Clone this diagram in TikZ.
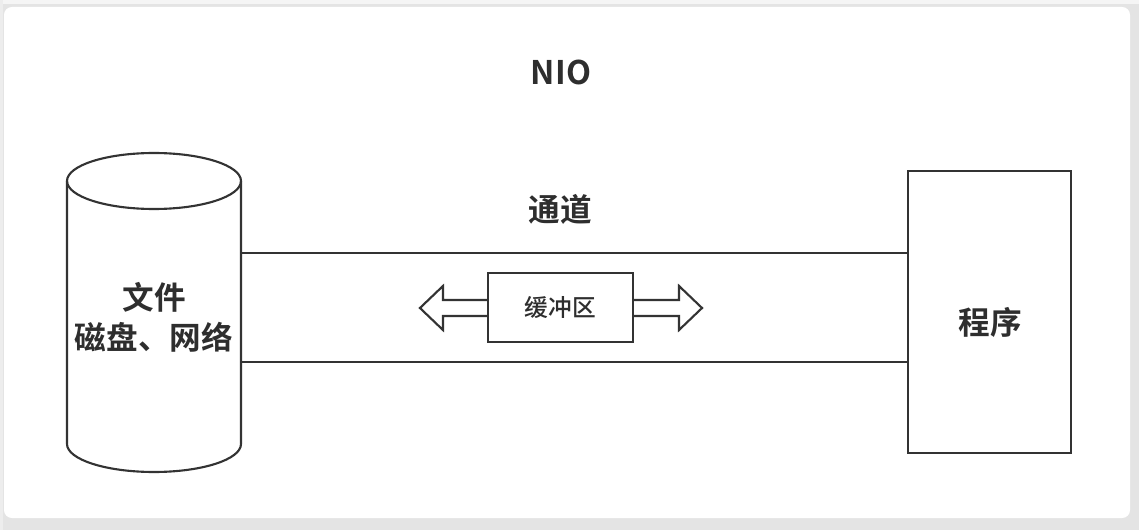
\documentclass[tikz,border=0pt]{standalone}
\usepackage{fontspec}
\setmainfont{Noto Sans CJK SC}[BoldFont={Noto Sans CJK SC Bold}]
\newfontfamily\mediumfont{Noto Sans CJK SC Medium}
\usetikzlibrary{calc}
\definecolor{linegray}{HTML}{333333}
\definecolor{textgray}{HTML}{2E2E2E}
\definecolor{bggray}{HTML}{E4E4E4}

\begin{document}
\begin{tikzpicture}[x=0.02cm, y=-0.02cm]
    % Styles
    \tikzstyle{line} = [draw=linegray, line width=1.2pt]
    \tikzstyle{box} = [rectangle, draw=linegray, line width=1.2pt, fill=white, inner sep=0pt]
    \tikzstyle{big} = [font=\bfseries\fontsize{18}{22.7}\selectfont, text=textgray, align=center, inner sep=0pt]
    \tikzstyle{small} = [font=\mediumfont\fontsize{13.5}{16}\selectfont, text=textgray]
    \tikzstyle{hollow} = [draw=linegray, line width=1.2pt, fill=white, line join=miter]

    % Card
    \useasboundingbox (0,0) rectangle (1139,530);
    \fill[bggray] (0,0) rectangle (1139,530);
    \fill[black!4] (0,0) rectangle (1139,4);
    \fill[black!7] (0,0) rectangle (3,530);
    \fill[white, rounded corners=4.5pt] (4,7) rectangle (1130,518);

    % Nodes
    \node[big, font=\bfseries\fontsize{18.5}{22}\selectfont] (title) at (561,72) {NIO};
    \node[inner sep=0pt, minimum width=13.34cm, minimum height=2.18cm] (channel) at (574.5,307.5) {};
    \node[big, anchor=south] (chlabel) at ($(channel.north)+(-14,-28)$) {通道};
    \node[box, minimum width=3.26cm, minimum height=5.64cm] (prog) at (989.5,312) {};
    \node[big] (proglabel) at ($(prog.center)+(1,10)$) {程序};
    \node[box, minimum width=2.9cm, minimum height=1.38cm, small] (buffer) at (560.5,307.5) {缓冲区};

    % Cylinder
    \coordinate (cyltop) at (154,181);
    \draw[line, fill=white] ($(cyltop)+(-87,0)$) -- ++(0,263)
        arc[start angle=180, end angle=0, x radius=87, y radius=28] -- ($(cyltop)+(87,0)$);
    \draw[line] (cyltop) ellipse [x radius=87, y radius=28];
    \node[big] (file) at (154,317) {文件\\磁盘、网络};

    % Channel
    \draw[line] (channel.north west) -- (channel.north east);
    \draw[line] (channel.south west) -- (channel.south east);

    % Arrows
    \draw[hollow] ($(buffer.west)+(0,-7.5)$) -- ++(-44,0) -- ++(0,-14) -- ++(-23,22)
        -- ++(23,22) -- ++(0,-14) -- ++(44,0);
    \draw[hollow] ($(buffer.east)+(0,-7.5)$) -- ++(45,0) -- ++(0,-14) -- ++(23,22)
        -- ++(-23,22) -- ++(0,-14) -- ++(-45,0);
\end{tikzpicture}
\end{document}
